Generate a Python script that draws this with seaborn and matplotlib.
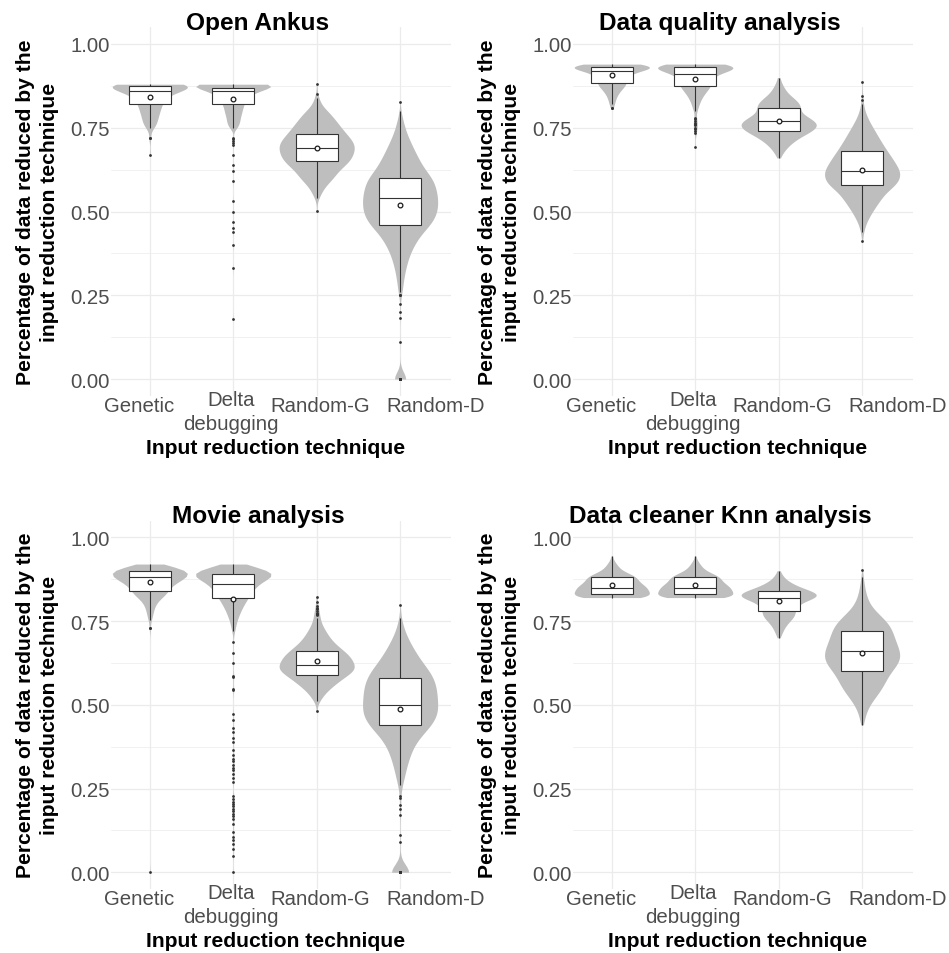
import numpy as np
import pandas as pd
import matplotlib
matplotlib.use("Agg")
import matplotlib.pyplot as plt
from matplotlib.ticker import FixedLocator, MultipleLocator, FormatStrFormatter
from matplotlib.transforms import offset_copy
import seaborn as sns

sns.set_style("white")
plt.rcParams["font.family"] = ["Liberation Sans", "DejaVu Sans"]

# ---------------------------------------------------------------- data
TECHNIQUES = ["Genetic", "Delta debugging", "Random-G", "Random-D"]
TICK_LINES = [["Genetic"], ["Delta", "debugging"], ["Random-G"], ["Random-D"]]
PANEL_TITLES = ["Open Ankus", "Data quality analysis",
                "Movie analysis", "Data cleaner Knn analysis"]
Y_TICKS = [0.00, 0.25, 0.50, 0.75, 1.00]
X_TITLE = "Input reduction technique"
Y_TITLE = ["Percentage of data reduced by the", "input reduction technique"]

# Observed reduction ratios per run, as (value, number of runs) pairs.
ankus_genetic = [(0.88, 50), (0.87, 30), (0.86, 25), (0.85, 15), (0.84, 12),
                 (0.83, 10), (0.82, 10), (0.81, 8), (0.80, 8), (0.79, 7),
                 (0.78, 6), (0.77, 6), (0.76, 5), (0.75, 4), (0.72, 2), (0.67, 1)]
ankus_delta = [(0.88, 150), (0.87, 90), (0.86, 75), (0.85, 45), (0.84, 36),
               (0.83, 30), (0.82, 30), (0.81, 24), (0.80, 24), (0.79, 21),
               (0.78, 18), (0.77, 18), (0.76, 15), (0.75, 12),
               (0.72, 1), (0.715, 1), (0.71, 1), (0.705, 1), (0.70, 1),
               (0.67, 1), (0.64, 1), (0.62, 1), (0.59, 1), (0.53, 1),
               (0.50, 1), (0.47, 1), (0.45, 1), (0.44, 1), (0.40, 1),
               (0.33, 1), (0.18, 1)]
ankus_random_g = [(0.882, 1), (0.85, 1), (0.84, 2), (0.83, 3), (0.82, 4),
                  (0.81, 6), (0.80, 11), (0.79, 14), (0.78, 16), (0.77, 19),
                  (0.76, 21), (0.75, 24), (0.74, 26), (0.73, 29), (0.72, 32),
                  (0.71, 35), (0.70, 37), (0.69, 37), (0.68, 36), (0.67, 35),
                  (0.66, 34), (0.65, 32), (0.64, 28), (0.63, 24), (0.62, 20),
                  (0.61, 18), (0.60, 17), (0.59, 13), (0.58, 9), (0.57, 7),
                  (0.56, 5), (0.55, 4), (0.54, 2), (0.501, 1)]
ankus_random_d = [(0.826, 1), (0.80, 2), (0.78, 9), (0.76, 15), (0.74, 22),
                  (0.72, 33), (0.70, 45), (0.68, 58), (0.66, 70), (0.64, 85),
                  (0.62, 100), (0.60, 128), (0.58, 136), (0.56, 143),
                  (0.54, 147), (0.52, 148), (0.50, 145), (0.48, 136),
                  (0.46, 119), (0.44, 90), (0.42, 70), (0.40, 55), (0.38, 42),
                  (0.36, 32), (0.34, 25), (0.32, 19), (0.30, 14), (0.28, 11),
                  (0.26, 8), (0.25, 2), (0.224, 1), (0.20, 1), (0.182, 1),
                  (0.11, 1), (0.0, 56)]

quality_genetic = [(0.94, 40), (0.93, 60), (0.92, 30), (0.91, 22), (0.90, 17),
                   (0.89, 16), (0.88, 18), (0.87, 13), (0.86, 10), (0.85, 7),
                   (0.84, 5), (0.83, 4), (0.82, 3), (0.81, 2)]
quality_delta = [(0.94, 40), (0.93, 60), (0.92, 30), (0.91, 22), (0.90, 17),
                 (0.89, 16), (0.88, 18), (0.87, 15), (0.86, 12), (0.85, 9),
                 (0.84, 7), (0.83, 5), (0.82, 4), (0.81, 3), (0.80, 2),
                 (0.778, 1), (0.775, 1), (0.77, 1), (0.765, 1), (0.76, 1),
                 (0.757, 1), (0.75, 1), (0.745, 1), (0.74, 1), (0.733, 1),
                 (0.693, 1)]
quality_random_g = [(0.90, 2), (0.89, 3), (0.88, 5), (0.87, 8), (0.86, 11),
                    (0.85, 14), (0.84, 22), (0.83, 28), (0.82, 32), (0.81, 35),
                    (0.80, 29), (0.79, 36), (0.78, 45), (0.77, 55), (0.76, 60),
                    (0.75, 57), (0.74, 50), (0.73, 40), (0.72, 30), (0.71, 23),
                    (0.70, 17), (0.69, 12), (0.68, 8), (0.67, 5), (0.66, 2)]
quality_random_d = [(0.888, 1), (0.846, 1), (0.832, 1), (0.82, 2), (0.80, 5),
                    (0.78, 10), (0.76, 17), (0.74, 25), (0.72, 32), (0.70, 40),
                    (0.68, 48), (0.66, 58), (0.64, 65), (0.62, 75), (0.60, 73),
                    (0.58, 68), (0.56, 45), (0.54, 38), (0.52, 28), (0.50, 20),
                    (0.48, 12), (0.46, 6), (0.44, 3), (0.411, 1)]

movie_genetic = [(0.92, 12), (0.91, 40), (0.90, 55), (0.89, 55), (0.88, 50),
                 (0.87, 40), (0.86, 32), (0.85, 26), (0.84, 26), (0.83, 22),
                 (0.82, 17), (0.81, 10), (0.80, 8), (0.79, 6), (0.78, 5),
                 (0.77, 4), (0.76, 3), (0.752, 2), (0.73, 1), (0.728, 1),
                 (0.0, 1)]
movie_delta = [(0.92, 12), (0.91, 35), (0.90, 60), (0.89, 65), (0.88, 58),
               (0.87, 42), (0.86, 36), (0.85, 32), (0.84, 28), (0.83, 25),
               (0.82, 22), (0.81, 19), (0.80, 16), (0.79, 13), (0.78, 11),
               (0.77, 9), (0.76, 7), (0.75, 5), (0.74, 4), (0.73, 3),
               (0.72, 3),
               (0.687, 1), (0.655, 1), (0.624, 1), (0.587, 1), (0.584, 1),
               (0.548, 1), (0.543, 1), (0.471, 1), (0.455, 1), (0.431, 1),
               (0.418, 1), (0.401, 1), (0.389, 1), (0.366, 1), (0.351, 1),
               (0.339, 1), (0.331, 1), (0.321, 1), (0.311, 1), (0.304, 1),
               (0.294, 1), (0.282, 1), (0.269, 1), (0.227, 1), (0.219, 1),
               (0.211, 1), (0.204, 1), (0.198, 1), (0.190, 1), (0.183, 1),
               (0.175, 1), (0.167, 1), (0.159, 1), (0.145, 1), (0.120, 1),
               (0.105, 1), (0.095, 1), (0.083, 1), (0.070, 1), (0.050, 1),
               (0.0, 1)]
movie_random_g = [(0.822, 1), (0.807, 1), (0.795, 1), (0.79, 1), (0.785, 1),
                  (0.78, 1), (0.775, 1), (0.772, 1), (0.77, 1), (0.767, 1),
                  (0.76, 3), (0.75, 4), (0.74, 5), (0.73, 7), (0.72, 9),
                  (0.71, 11), (0.70, 13), (0.69, 16), (0.68, 19), (0.67, 23),
                  (0.66, 28), (0.65, 32), (0.64, 34), (0.63, 37), (0.62, 37),
                  (0.61, 40), (0.60, 38), (0.59, 31), (0.58, 27), (0.57, 22),
                  (0.56, 18), (0.55, 14), (0.54, 10), (0.53, 7), (0.52, 5),
                  (0.51, 3), (0.481, 1)]
movie_random_d = [(0.797, 1), (0.76, 2), (0.74, 5), (0.72, 9), (0.70, 15),
                  (0.68, 22), (0.66, 30), (0.64, 38), (0.62, 48), (0.60, 60),
                  (0.58, 68), (0.56, 72), (0.54, 74), (0.52, 75), (0.50, 75),
                  (0.48, 78), (0.46, 72), (0.44, 65), (0.42, 50), (0.40, 38),
                  (0.38, 28), (0.36, 23), (0.34, 18), (0.32, 14), (0.30, 11),
                  (0.28, 8), (0.26, 5), (0.228, 1), (0.222, 1), (0.20, 1),
                  (0.19, 1), (0.17, 1), (0.11, 1), (0.09, 1), (0.0, 50)]

knn_genetic = [(0.944, 1), (0.93, 2), (0.92, 4), (0.91, 6), (0.90, 9),
               (0.89, 16), (0.88, 22), (0.87, 22), (0.86, 26), (0.85, 30),
               (0.84, 31), (0.83, 33), (0.82, 32)]
knn_delta = [(0.944, 1), (0.93, 2), (0.92, 4), (0.91, 6), (0.90, 9),
             (0.89, 16), (0.88, 22), (0.87, 22), (0.86, 26), (0.85, 30),
             (0.84, 31), (0.83, 33), (0.82, 32)]
knn_random_g = [(0.90, 2), (0.89, 4), (0.88, 7), (0.87, 12), (0.86, 20),
                (0.85, 30), (0.84, 45), (0.83, 60), (0.82, 55), (0.81, 35),
                (0.80, 28), (0.79, 24), (0.78, 22), (0.77, 24), (0.76, 20),
                (0.75, 16), (0.74, 11), (0.73, 8), (0.72, 6), (0.71, 4),
                (0.70, 2)]
knn_random_d = [(0.902, 1), (0.88, 2), (0.86, 4), (0.84, 6), (0.82, 9),
                (0.80, 14), (0.78, 24), (0.76, 40), (0.74, 52), (0.72, 58),
                (0.70, 61), (0.68, 66), (0.66, 72), (0.64, 74), (0.62, 68),
                (0.60, 55), (0.58, 47), (0.56, 42), (0.54, 34), (0.52, 24),
                (0.50, 14), (0.48, 8), (0.46, 5), (0.44, 2)]

PANEL_DATA = [
    [ankus_genetic, ankus_delta, ankus_random_g, ankus_random_d],
    [quality_genetic, quality_delta, quality_random_g, quality_random_d],
    [movie_genetic, movie_delta, movie_random_g, movie_random_d],
    [knn_genetic, knn_delta, knn_random_g, knn_random_d],
]


def expand(pairs):
    values = [v for v, _ in pairs]
    counts = [c for _, c in pairs]
    return np.repeat(values, counts)


frames = []
for title, groups in zip(PANEL_TITLES, PANEL_DATA):
    for tech, pairs in zip(TECHNIQUES, groups):
        frames.append(pd.DataFrame({"panel": title, "technique": tech,
                                    "value": expand(pairs)}))
df = pd.concat(frames, ignore_index=True)


def nrd0_factor(kde):
    """Silverman's rule of thumb (R's bw.nrd0) expressed as a scipy factor."""
    x = kde.dataset[0]
    sd = np.std(x, ddof=1)
    q25, q75 = np.percentile(x, [25, 75])
    spread = min(sd, (q75 - q25) / 1.34)
    return 0.9 * spread * len(x) ** -0.2 / sd


# ---------------------------------------------------------------- layout
W, H = 949, 954
PW, PH = 340, 368.5
PANEL_ORIGINS = [(111, 28.25), (573, 28.25), (111, 521.5), (573, 521.5)]
# horizontal nudges (px) of the category labels, as laid out under each panel
LABEL_NUDGE = [-11, -2, 4, 36]

VIOLIN_COLOR = "#BEBEBE"
LINE_COLOR = "#333333"
GRID_COLOR = "#EBEBEB"
TICK_COLOR = "#4D4D4D"

fig = plt.figure(figsize=(W / 100, H / 100), dpi=100)
fig.patch.set_facecolor("white")

for title, (px, py) in zip(PANEL_TITLES, PANEL_ORIGINS):
    ax = fig.add_axes([px / W, 1 - (py + PH) / H, PW / W, PH / H])
    sub = df[df["panel"] == title]

    sns.violinplot(data=sub, x="technique", y="value", order=TECHNIQUES,
                   color=VIOLIN_COLOR, saturation=1, inner=None, cut=0,
                   density_norm="width", width=0.9, linewidth=0,
                   bw_method=nrd0_factor, ax=ax)
    sns.boxplot(data=sub, x="technique", y="value", order=TECHNIQUES,
                color="white", saturation=1, width=0.5, linecolor=LINE_COLOR,
                linewidth=0.8, fliersize=2.0, showcaps=False,
                flierprops=dict(marker="o", markerfacecolor=LINE_COLOR,
                                markeredgecolor=LINE_COLOR, markeredgewidth=0),
                showmeans=True,
                meanprops=dict(marker="o", markerfacecolor="white",
                               markeredgecolor="#1A1A1A", markersize=3.4,
                               markeredgewidth=0.9),
                ax=ax)

    ax.set_xlim(-0.465, 3.61)
    ax.set_ylim(-0.05, 1.05)
    ax.set_xlabel("")
    ax.set_ylabel("")
    ax.set_xticks(range(len(TECHNIQUES)))
    ax.set_xticklabels([])
    ax.yaxis.set_major_locator(FixedLocator(Y_TICKS))
    ax.yaxis.set_minor_locator(MultipleLocator(0.125))
    ax.yaxis.set_major_formatter(FormatStrFormatter("%.2f"))
    ax.set_axisbelow(True)
    ax.grid(True, which="major", color=GRID_COLOR, linewidth=0.9)
    ax.grid(True, which="minor", axis="y", color=GRID_COLOR, linewidth=0.5)
    for side in ax.spines.values():
        side.set_visible(False)
    ax.tick_params(which="both", length=0)
    ax.tick_params(axis="y", pad=1, labelsize=14.7, labelcolor=TICK_COLOR)

    # category labels under the panel
    xt = ax.get_xaxis_transform()
    for i, (lines, nudge) in enumerate(zip(TICK_LINES, LABEL_NUDGE)):
        drops = [15] if len(lines) == 1 else [9, 33]
        for line, drop in zip(lines, drops):
            ax.text(i, 0, line, ha="center", va="baseline", fontsize=14.7,
                    color=TICK_COLOR,
                    transform=offset_copy(xt, fig=fig, x=nudge, y=-drop,
                                          units="dots"))

    # panel title
    ax.text(0.432, 1.0, title, ha="center", va="baseline", fontsize=17.6,
            fontweight="bold", color="black",
            transform=offset_copy(ax.transAxes, fig=fig, y=-2, units="dots"))

    # axis titles
    ax.text(0.484, 0.0, X_TITLE, ha="center", va="baseline", fontsize=15.2,
            fontweight="bold", color="black",
            transform=offset_copy(ax.transAxes, fig=fig, y=-57, units="dots"))
    for line, shift in zip(Y_TITLE, [-80, -56]):
        ax.text(0.0, 0.5, line, ha="center", va="baseline", rotation=90,
                rotation_mode="anchor", fontsize=15.2, fontweight="bold",
                color="black",
                transform=offset_copy(ax.transAxes, fig=fig, x=shift,
                                      units="dots"))

fig.savefig("out.png", dpi=100, facecolor="white")
